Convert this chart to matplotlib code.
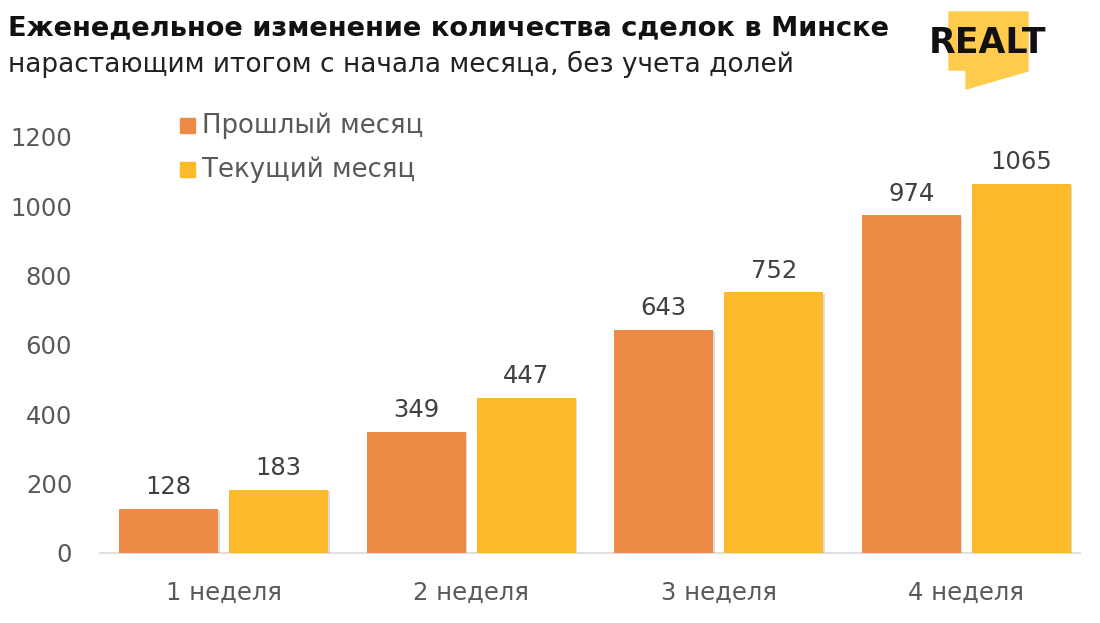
import matplotlib
matplotlib.use('Agg')
import matplotlib.pyplot as plt
import matplotlib.patches as mpatches
import matplotlib.patheffects as pe
import numpy as np

plt.rcParams['font.family'] = ['DejaVu Sans']

weeks = ['1 неделя', '2 неделя', '3 неделя', '4 неделя']
prev_month = [128, 349, 643, 974]
cur_month = [183, 447, 752, 1065]
series_names = ['Прошлый месяц', 'Текущий месяц']
colors = ['#ED8A45', '#FDBA2B']
yticks = [0, 200, 400, 600, 800, 1000, 1200]

fig = plt.figure(figsize=(11, 6.23), dpi=100)
ax = fig.add_axes([100 / 1100, 1 - 553 / 623, 990 / 1100, 416 / 623])

x = np.arange(len(weeks))
w = 0.40
off = 0.222
shadow = [pe.SimplePatchShadow(offset=(1, -1), shadow_rgbFace='#999999', alpha=0.35), pe.Normal()]
for vals, dx, c in [(prev_month, -off, colors[0]), (cur_month, off, colors[1])]:
    bars = ax.bar(x + dx, vals, width=w, color=c, zorder=3)
    for b in bars:
        b.set_path_effects(shadow)
    for xi, v in zip(x + dx, vals):
        ax.text(xi, v + 28, str(v), ha='center', va='bottom', fontsize=17.5, color='#404040')

ax.set_xlim(-0.5, 3.5)
ax.set_ylim(0, 1200)
ax.set_yticks(yticks)
ax.set_yticklabels([str(t) for t in yticks], fontsize=17.5, color='#595959')
ax.set_xticks(x)
ax.set_xticklabels(weeks, fontsize=17.5, color='#595959')
ax.tick_params(length=0)
ax.tick_params(axis='y', pad=20)
ax.tick_params(axis='x', pad=20)
for s in ['top', 'right', 'left']:
    ax.spines[s].set_visible(False)
ax.spines['bottom'].set_color('#D9D9D9')
ax.spines['bottom'].set_linewidth(1.2)
ax.spines['bottom'].set_bounds(-0.5, 3.46)

# legend
for i, (name, c) in enumerate(zip(series_names, colors)):
    yy = 1 - (126 + 44 * i) / 623
    fig.patches.append(mpatches.Rectangle((180 / 1100, yy - 7 / 623), 15 / 1100, 15 / 623,
                                          transform=fig.transFigure, color=c))
    fig.text(202 / 1100, yy, name, fontsize=18.7, color='#595959', va='center')

# title
fig.text(8 / 1100, 1 - 28 / 623, 'Еженедельное изменение количества сделок в Минске',
         fontsize=19.6, fontweight='bold', color='#111111', va='center')
fig.text(8 / 1100, 1 - 64 / 623, 'нарастающим итогом с начала месяца, без учета долей',
         fontsize=19, color='#222222', va='center')

# logo
pts = [(949, 12), (1028, 12), (1028, 71), (966, 89), (966, 70), (949, 70)]
fig.patches.append(mpatches.Polygon([(px / 1100, 1 - py / 623) for px, py in pts],
                                    closed=True, transform=fig.transFigure, color='#FFCB4C'))
fig.text(988 / 1100, 1 - 43 / 623, 'REALT', fontsize=25, fontweight='bold', color='#111111',
         ha='center', va='center')

fig.savefig('out.png', dpi=100)
